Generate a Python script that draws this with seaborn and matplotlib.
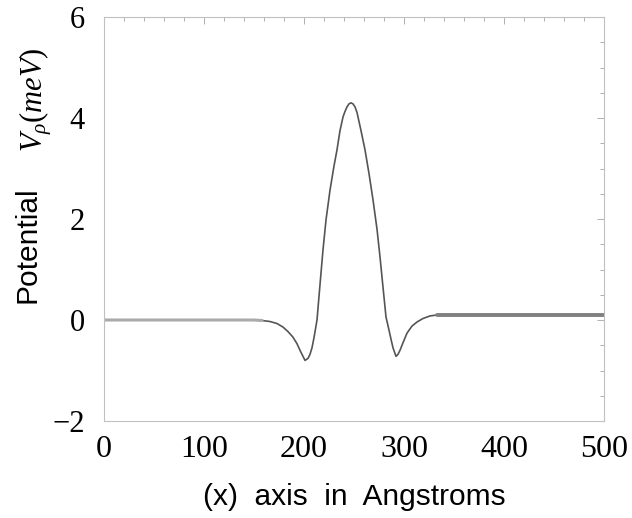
import numpy as np
import pandas as pd
import matplotlib
matplotlib.use("Agg")
import matplotlib.pyplot as plt
import seaborn as sns
from matplotlib.ticker import MultipleLocator

# values (x in Angstroms, potential in meV)
x_ang = [0, 50, 100, 150, 158, 166, 173, 179, 184, 189, 193, 196, 199, 201,
         204, 206, 208, 210, 213, 216, 219, 222, 226, 230, 233, 236, 239, 241,
         243, 245, 247, 249, 251, 253, 254, 257, 261, 265, 269, 273, 276, 279,
         282, 285, 287, 289, 292, 294, 296, 299, 303, 308, 313, 319, 326, 333,
         400, 450, 500]
v_mev = [0.0, 0.0, 0.0, 0.0, -0.01, -0.03, -0.07, -0.14, -0.23, -0.34, -0.47,
         -0.6, -0.72, -0.8, -0.76, -0.68, -0.55, -0.35, 0.0, 0.7, 1.39, 1.98,
         2.57, 3.05, 3.37, 3.75, 4.02, 4.13, 4.22, 4.28, 4.30, 4.28, 4.22, 4.11,
         4.02, 3.75, 3.37, 2.9, 2.38, 1.8, 1.25, 0.65, 0.06, -0.2, -0.38, -0.55,
         -0.72, -0.68, -0.6, -0.45, -0.26, -0.12, -0.04, 0.03, 0.08, 0.1, 0.1,
         0.1, 0.1]

x_ticks = [0, 100, 200, 300, 400, 500]
y_ticks = [-2, 0, 2, 4, 6]

df = pd.DataFrame({"x": x_ang, "v": v_mev})

sns.set_style("white")
plt.rcParams["font.family"] = ["Liberation Serif", "DejaVu Serif"]
plt.rcParams["text.color"] = "black"
plt.rcParams["axes.labelcolor"] = "black"
plt.rcParams["mathtext.fontset"] = "custom"
plt.rcParams["mathtext.it"] = "Liberation Serif:italic"
plt.rcParams["mathtext.rm"] = "Liberation Serif"

fig = plt.figure(figsize=(6.32, 5.18), dpi=100)
ax = fig.add_axes([104 / 632, 1 - 421 / 518, 500 / 632, 404 / 518])

sns.lineplot(data=df, x="x", y="v", ax=ax, color="#555555", linewidth=1.2,
             estimator=None, sort=False)
# flat tails look heavier and lighter in the reference
left = df[df["x"] <= 158]
right = df[df["x"] >= 333]
sns.lineplot(data=left, x="x", y="v", ax=ax, color="#aaaaaa", linewidth=2.2, estimator=None)
sns.lineplot(data=right, x="x", y="v", ax=ax, color="#808080", linewidth=2.8, estimator=None)

ax.set_xlim(0, 500)
ax.set_ylim(-2, 6)
ax.set_xticks(x_ticks)
ax.set_yticks(y_ticks)
ax.set_yticklabels(["\u22122" if t < 0 else str(t) for t in y_ticks])
ax.xaxis.set_minor_locator(MultipleLocator(20))
ax.yaxis.set_minor_locator(MultipleLocator(0.5))
ax.tick_params(which="both", direction="in", top=True, right=True, color="#b0b0b0",
               width=0.7, labelcolor="black")
ax.tick_params(which="major", length=5)
ax.tick_params(which="minor", length=3)
ax.tick_params(axis="x", labelsize=23, pad=10)
ax.tick_params(axis="y", labelsize=22, pad=14)
for s in ax.spines.values():
    s.set_color("#c0c0c0")
    s.set_linewidth(0.8)

ax.set_xlabel("(x)  axis  in  Angstroms", family="Liberation Sans", fontsize=21.5, labelpad=14)
ax.set_ylabel("")

# y label: sans "Potential" plus serif italic symbol, placed as in the reference
fig.text(35 / 632, 1 - 245 / 518, "Potential", family="Liberation Sans", fontsize=21.5,
         rotation=90, rotation_mode="anchor", ha="center", va="baseline")
fig.text(43 / 632, 1 - 100 / 518, "$V_{\\rho}(meV)$", fontsize=22,
         rotation=90, rotation_mode="anchor", ha="center", va="baseline")

fig.savefig("out.png", dpi=100)
